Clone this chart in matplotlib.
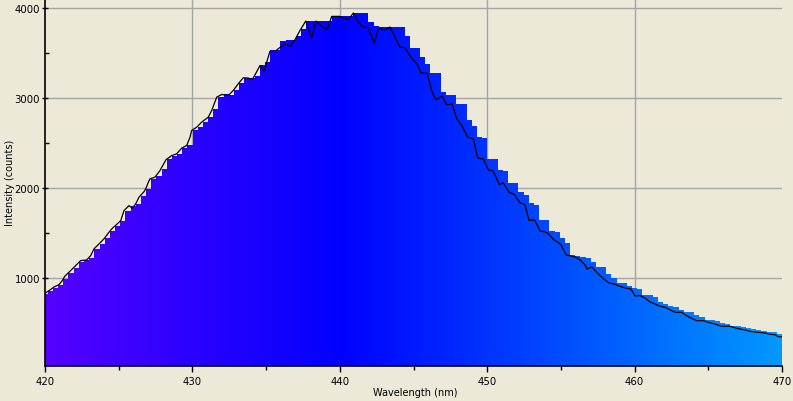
import numpy as np
import matplotlib
matplotlib.use("Agg")
import matplotlib.pyplot as plt
from matplotlib.patches import Polygon

# ---- data -------------------------------------------------------------
line_wl = [420.00, 420.27, 420.61, 420.95, 421.17, 421.34, 421.63, 421.97, 422.19, 422.42,
           422.83, 423.10, 423.32, 423.66, 424.00, 424.34, 424.57, 424.90, 425.14, 425.36,
           425.70, 425.92, 426.15, 426.38, 426.72, 426.83, 427.01, 427.12, 427.46, 427.80,
           428.21, 428.60, 428.93, 429.27, 429.61, 429.84, 429.95, 430.29, 430.63, 431.08,
           431.31, 431.65, 431.99, 432.44, 432.77, 433.11, 433.45, 433.79, 434.06, 434.25,
           434.59, 434.88, 435.04, 435.26, 435.60, 435.83, 436.28, 436.62, 436.96, 437.30,
           437.69, 438.09, 438.39, 438.77, 439.15, 439.45, 440.01, 440.58, 440.92, 441.26,
           441.59, 441.93, 442.34, 442.61, 443.07, 443.41, 444.08, 444.42, 444.76, 445.22,
           445.51, 445.92, 446.23, 446.51, 446.95, 447.25, 447.63, 447.93, 448.27, 448.68,
           449.06, 449.36, 449.74, 450.07, 450.41, 450.82, 451.09, 451.48, 451.84, 452.23,
           452.56, 452.84, 453.04, 453.24, 453.58, 453.92, 454.12, 454.53, 454.87, 455.01,
           455.35, 455.96, 456.30, 456.64, 456.77, 457.11, 457.54, 457.99, 458.26, 458.67,
           458.94, 459.35, 459.76, 460.03, 460.37, 460.71, 461.04, 461.38, 461.72, 462.06,
           462.40, 462.74, 463.19, 463.53, 463.87, 464.21, 464.66, 465.00, 465.45, 465.91,
           466.47, 466.93, 467.49, 467.94, 468.39, 468.85, 469.19, 469.53, 469.75, 470.00]
line_counts = [833, 862, 903, 929, 973, 1022, 1067, 1122, 1159, 1196,
               1203, 1251, 1325, 1381, 1437, 1511, 1555, 1603, 1640, 1751,
               1806, 1778, 1825, 1900, 1962, 1992, 2066, 2103, 2122, 2195,
               2317, 2362, 2381, 2444, 2473, 2566, 2640, 2677, 2733, 2789,
               2862, 3011, 3040, 3029, 3084, 3159, 3225, 3222, 3206, 3259,
               3362, 3295, 3400, 3518, 3518, 3548, 3603, 3573, 3648, 3751,
               3855, 3666, 3855, 3796, 3759, 3907, 3907, 3870, 3944, 3844,
               3789, 3781, 3611, 3770, 3759, 3789, 3566, 3559, 3470, 3381,
               3281, 3277, 3084, 2981, 3022, 2925, 2936, 2770, 2695, 2566,
               2548, 2333, 2325, 2203, 2189, 2040, 2059, 1955, 1929, 1837,
               1816, 1640, 1648, 1640, 1525, 1514, 1500, 1425, 1392, 1370,
               1259, 1236, 1203, 1148, 1103, 1125, 1048, 981, 948, 933,
               914, 892, 881, 803, 807, 781, 737, 714, 689, 678,
               651, 622, 622, 584, 555, 529, 529, 511, 492, 467,
               467, 444, 425, 407, 400, 392, 378, 373, 351, 351]

# coarse (binned) spectrum drawn as the coloured filled steps
bar_first_nm = 419.84      # left edge of first bin
bar_step_nm = 0.3508       # bin width
bar_counts = [830, 855, 895, 925, 990, 1060, 1118, 1175, 1200, 1230,
              1328, 1385, 1445, 1520, 1580, 1635, 1751, 1806, 1820, 1915,
              1995, 2105, 2130, 2210, 2320, 2362, 2381, 2445, 2480, 2645,
              2680, 2740, 2785, 2880, 3015, 3040, 3029, 3090, 3165, 3225,
              3225, 3250, 3370, 3400, 3530, 3530, 3633, 3640, 3640, 3690,
              3770, 3855, 3855, 3855, 3855, 3855, 3911, 3911, 3911, 3911,
              3948, 3948, 3948, 3848, 3800, 3785, 3785, 3785, 3785, 3785,
              3684, 3559, 3559, 3455, 3381, 3281, 3281, 3066, 3036, 3036,
              2936, 2936, 2762, 2689, 2573, 2555, 2325, 2325, 2203, 2189,
              2059, 2059, 1955, 1929, 1837, 1818, 1648, 1648, 1525, 1514,
              1448, 1389, 1259, 1248, 1233, 1225, 1181, 1125, 1125, 1048,
              1003, 948, 948, 914, 889, 881, 814, 814, 789, 733,
              714, 689, 678, 648, 622, 622, 592, 567, 537, 537,
              522, 503, 492, 473, 473, 455, 444, 433, 422, 414,
              403, 403, 381]

x_ticks = [420, 430, 440, 450, 460, 470]
y_ticks = [1000, 2000, 3000, 4000]
x_label = "Wavelength (nm)"
y_label = "Intensity (counts)"

# ---- style ------------------------------------------------------------
BG = "#ECE9D8"
GRID = "#A5A5A5"
XMIN, XMAX = 420, 470
YMIN, YMAX = 26, 4100
W, H = 793, 402


def wl_rgb(w):
    w = np.asarray(w, dtype=float)
    r = np.where(w < 440, -(w - 440) / 60.0, 0.0)
    g = np.where(w >= 440, (w - 440) / 50.0, 0.0)
    b = np.ones_like(w)
    return np.clip(np.stack([r, g, b], axis=-1), 0, 1)


fig = plt.figure(figsize=(W / 100, H / 100), dpi=100, facecolor=BG)
ax = fig.add_axes([45 / W, 35 / H, 737 / W, 367 / H])
ax.set_facecolor(BG)

ax.set_xlim(XMIN, XMAX)
ax.set_ylim(YMIN, YMAX)

# grid lines (drawn manually, none at the right edge)
for xv in x_ticks:
    if XMIN < xv < XMAX:
        ax.axvline(xv, color=GRID, lw=1.0, zorder=0)
for yv in y_ticks:
    ax.axhline(yv, color=GRID, lw=1.0, zorder=0)

ax.set_xticks(x_ticks)
ax.set_yticks(y_ticks)
ax.set_xticks([425, 435, 445, 455, 465], minor=True)
ax.set_yticks([500, 1500, 2500, 3500], minor=True)

# step polygon for binned data
bc = np.asarray(bar_counts, dtype=float)
n = len(bc)
left = bar_first_nm + bar_step_nm * np.arange(n)
right = left + bar_step_nm
xs = np.empty(2 * n)
ys = np.empty(2 * n)
xs[0::2] = left
xs[1::2] = right
ys[0::2] = bc
ys[1::2] = bc
verts = [(left[0], YMIN - 100)] + list(zip(xs, ys)) + [(right[-1], YMIN - 100)]
poly = Polygon(verts, closed=True, transform=ax.transData, facecolor="none", edgecolor="none")
ax.add_patch(poly)

gx = np.linspace(XMIN, XMAX, 800)
grad = wl_rgb(gx)[np.newaxis, :, :]
im = ax.imshow(grad, extent=[XMIN, XMAX, YMIN, YMAX], aspect="auto",
               origin="lower", zorder=2, interpolation="bilinear")
im.set_clip_path(poly)

ax.plot(line_wl, line_counts, color="black", lw=0.9, zorder=3)

for s in ["top", "right"]:
    ax.spines[s].set_visible(False)
for s in ["left", "bottom"]:
    ax.spines[s].set_color("black")
    ax.spines[s].set_linewidth(1.2)
    ax.spines[s].set_zorder(4)

ax.tick_params(axis="both", which="major", labelsize=7.3, colors="black", width=1)
ax.tick_params(axis="y", which="major", direction="inout", length=5, pad=1)
ax.tick_params(axis="y", which="minor", direction="in", length=3, width=1)
ax.tick_params(axis="x", which="minor", direction="out", length=3, width=1)
ax.tick_params(axis="x", which="major", direction="out", length=4, pad=3)

ax.set_xlabel(x_label, fontsize=7)
ax.xaxis.set_label_coords((415 - 45) / 737, -(393 - 367) / 367)
ax.xaxis.label.set_va("center")
ax.set_ylabel(y_label, fontsize=7)
ax.yaxis.set_label_coords((10 - 45) / 737, (367 - 183) / 367)
ax.yaxis.label.set_va("center")

fig.savefig("out.png", dpi=100, facecolor=BG)
